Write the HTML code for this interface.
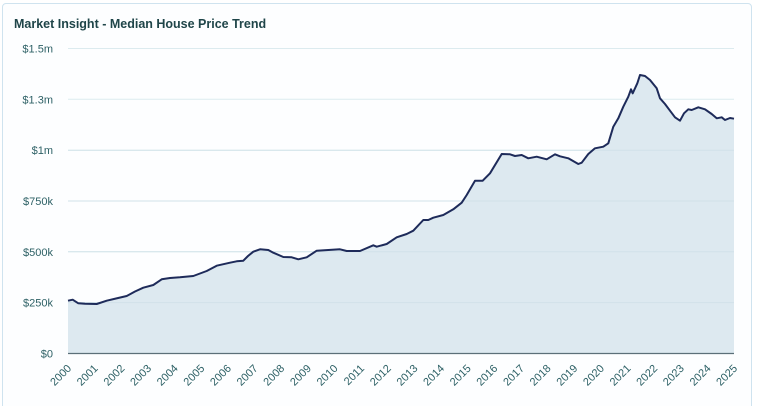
<!DOCTYPE html>
<html><head><meta charset="utf-8">
<style>
html,body{margin:0;padding:0;background:#fff;width:757px;height:406px;overflow:hidden;}
body{position:relative;font-family:"Liberation Sans",sans-serif;}
.card{position:absolute;left:2px;top:3px;width:750px;height:410px;border:1.5px solid #cfe3ef;border-radius:4px;box-sizing:border-box;background:#fdfeff;}
svg{position:absolute;left:0;top:0;}
</style></head>
<body>
<div class="card"></div>
<svg width="757" height="406" viewBox="0 0 757 406" xmlns="http://www.w3.org/2000/svg">
<text x="14" y="28" font-family="Liberation Sans, sans-serif" font-weight="bold" font-size="12.5" fill="#1f4549">Market Insight - Median House Price Trend</text>
<g stroke="#dcebef" stroke-width="1">
<line x1="68" y1="48.5" x2="734" y2="48.5"/>
<line x1="68" y1="99.3" x2="734" y2="99.3"/>
<line x1="68" y1="150.2" x2="734" y2="150.2"/>
<line x1="68" y1="201" x2="734" y2="201"/>
<line x1="68" y1="251.8" x2="734" y2="251.8"/>
<line x1="68" y1="302.6" x2="734" y2="302.6"/>
</g>
<path fill="#dde9f0" d="M68,300.7 L72.7,299.7 L78.3,303.3 L85,303.7 L96.7,304 L106.7,300.7 L116,298.5 L126.7,296 L135,291.5 L143.3,287.7 L153.3,285 L161.7,279.3 L170,278 L180,277.3 L193.3,276 L206.7,271 L216.7,265.7 L230,262.7 L236.7,261.3 L243.3,260.7 L248,256 L253.3,251.7 L260,249.3 L268.3,250 L273.3,252.7 L283.3,257 L291.7,257.3 L298.3,259.3 L306.7,257.3 L316.7,250.7 L328.3,250 L340,249.3 L346.7,251 L360,251 L373.3,245.3 L376.7,246.7 L386.7,244 L396.7,237.3 L406.7,234 L413.3,230.7 L423.3,220 L428.3,220 L433.3,217.7 L443.3,215 L453.3,209.3 L461.7,202.7 L466.7,195 L475,180.7 L482.7,180.7 L490,173.3 L501.7,154 L510,154.3 L515,156 L521.7,155 L528.3,158.3 L536.7,156.7 L546.7,159.3 L555,154.3 L560,156.3 L568.3,158.3 L578.3,164 L581.7,162.7 L588.3,154 L595,148.3 L603.3,146.7 L608.3,143.3 L613.3,126.7 L618.3,118.3 L623.3,106.7 L628.3,96.7 L631,89.3 L632.7,93.3 L637.3,83.3 L640,75 L645,76 L650,80 L656.7,88.3 L660,98.3 L665,104 L670,110.7 L675,117.3 L680,120.7 L684,113.3 L688.3,109.3 L691.7,110 L698.3,107.3 L705,109.3 L711.7,114 L716.7,118.3 L721.7,117.3 L725,120 L730,118 L734,118.7 L734,353.5 L68,353.5 Z"/>
<g stroke="#cfe0e8" stroke-width="1" opacity="0.8">
<line x1="68" y1="150.2" x2="734" y2="150.2"/>
<line x1="68" y1="201" x2="734" y2="201"/>
<line x1="68" y1="251.8" x2="734" y2="251.8"/>
<line x1="68" y1="302.6" x2="734" y2="302.6"/>
</g>
<path fill="none" stroke="#1e2b5a" stroke-width="2" stroke-linejoin="round" d="M68,300.7 L72.7,299.7 L78.3,303.3 L85,303.7 L96.7,304 L106.7,300.7 L116,298.5 L126.7,296 L135,291.5 L143.3,287.7 L153.3,285 L161.7,279.3 L170,278 L180,277.3 L193.3,276 L206.7,271 L216.7,265.7 L230,262.7 L236.7,261.3 L243.3,260.7 L248,256 L253.3,251.7 L260,249.3 L268.3,250 L273.3,252.7 L283.3,257 L291.7,257.3 L298.3,259.3 L306.7,257.3 L316.7,250.7 L328.3,250 L340,249.3 L346.7,251 L360,251 L373.3,245.3 L376.7,246.7 L386.7,244 L396.7,237.3 L406.7,234 L413.3,230.7 L423.3,220 L428.3,220 L433.3,217.7 L443.3,215 L453.3,209.3 L461.7,202.7 L466.7,195 L475,180.7 L482.7,180.7 L490,173.3 L501.7,154 L510,154.3 L515,156 L521.7,155 L528.3,158.3 L536.7,156.7 L546.7,159.3 L555,154.3 L560,156.3 L568.3,158.3 L578.3,164 L581.7,162.7 L588.3,154 L595,148.3 L603.3,146.7 L608.3,143.3 L613.3,126.7 L618.3,118.3 L623.3,106.7 L628.3,96.7 L631,89.3 L632.7,93.3 L637.3,83.3 L640,75 L645,76 L650,80 L656.7,88.3 L660,98.3 L665,104 L670,110.7 L675,117.3 L680,120.7 L684,113.3 L688.3,109.3 L691.7,110 L698.3,107.3 L705,109.3 L711.7,114 L716.7,118.3 L721.7,117.3 L725,120 L730,118 L734,118.7"/>
<line x1="68" y1="353.5" x2="734" y2="353.5" stroke="#5b6f78" stroke-width="1.2"/>
<g font-family="Liberation Sans, sans-serif" font-size="11" fill="#2e6166" text-anchor="end">
<text x="53" y="52.5">$1.5m</text>
<text x="53" y="103.3">$1.3m</text>
<text x="53" y="154.2">$1m</text>
<text x="53" y="205">$750k</text>
<text x="53" y="255.8">$500k</text>
<text x="53" y="306.6">$250k</text>
<text x="53" y="357.5">$0</text>
</g>
<g font-family="Liberation Sans, sans-serif" font-size="11" fill="#2e6166" text-anchor="end">
<text transform="translate(72,369) rotate(-45)">2000</text>
<text transform="translate(98.6,369) rotate(-45)">2001</text>
<text transform="translate(125.3,369) rotate(-45)">2002</text>
<text transform="translate(151.9,369) rotate(-45)">2003</text>
<text transform="translate(178.6,369) rotate(-45)">2004</text>
<text transform="translate(205.2,369) rotate(-45)">2005</text>
<text transform="translate(231.8,369) rotate(-45)">2006</text>
<text transform="translate(258.5,369) rotate(-45)">2007</text>
<text transform="translate(285.1,369) rotate(-45)">2008</text>
<text transform="translate(311.8,369) rotate(-45)">2009</text>
<text transform="translate(338.4,369) rotate(-45)">2010</text>
<text transform="translate(365,369) rotate(-45)">2011</text>
<text transform="translate(391.7,369) rotate(-45)">2012</text>
<text transform="translate(418.3,369) rotate(-45)">2013</text>
<text transform="translate(445,369) rotate(-45)">2014</text>
<text transform="translate(471.6,369) rotate(-45)">2015</text>
<text transform="translate(498.2,369) rotate(-45)">2016</text>
<text transform="translate(524.9,369) rotate(-45)">2017</text>
<text transform="translate(551.5,369) rotate(-45)">2018</text>
<text transform="translate(578.2,369) rotate(-45)">2019</text>
<text transform="translate(604.8,369) rotate(-45)">2020</text>
<text transform="translate(631.4,369) rotate(-45)">2021</text>
<text transform="translate(658.1,369) rotate(-45)">2022</text>
<text transform="translate(684.7,369) rotate(-45)">2023</text>
<text transform="translate(711.4,369) rotate(-45)">2024</text>
<text transform="translate(738,369) rotate(-45)">2025</text>
</g>
</svg>
</body></html>
